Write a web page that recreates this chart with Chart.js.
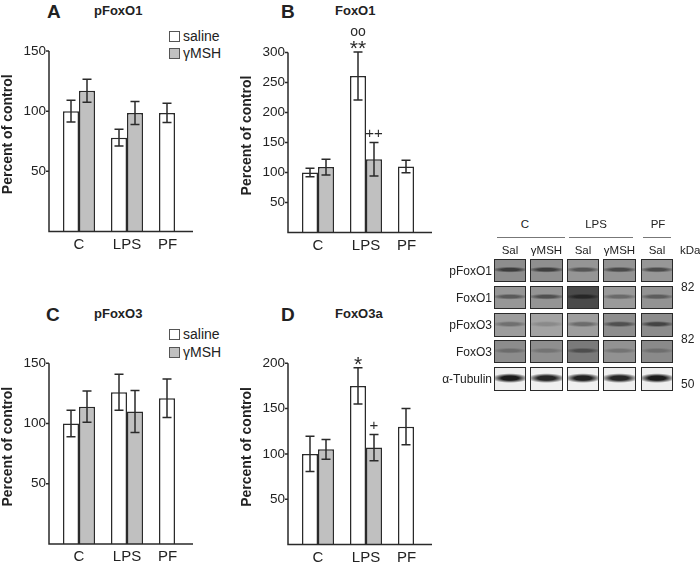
<!DOCTYPE html>
<html>
<head>
<meta charset="utf-8">
<script src="https://cdn.jsdelivr.net/npm/chart.js@4.4.1/dist/chart.umd.min.js"></script>
<style>
  body { margin: 0; background: #fff; }
  #fig { position: relative; width: 700px; height: 562px; overflow: hidden;
         font-family: "Liberation Sans", Arial, sans-serif; color: #222; }
  #fig canvas { position: absolute; }
  .letter { position: absolute; font-weight: bold; font-size: 19px; line-height: 19px; }
  .ptitle { position: absolute; font-weight: bold; font-size: 13px; line-height: 13px; }
  .leg { position: absolute; font-size: 14px; line-height: 14px; white-space: nowrap; }
  .leg span { display: inline-block; width: 9px; height: 9px; border: 1px solid #555;
              vertical-align: -1px; margin-right: 3px; }
  .blot { position: absolute; font-size: 11.5px; line-height: 12px; white-space: nowrap; }
  .cell { position: absolute; box-sizing: border-box; border: 1.5px solid #2a2a2a; }
  .hline { position: absolute; height: 0; border-top: 1.5px solid #777; }
</style>
</head>
<body>
<div id="fig">
  <div class="letter" style="left:47px;top:2px">A</div>
  <div class="ptitle" style="left:94px;top:4px">pFoxO1</div>
  <div class="letter" style="left:281px;top:2px">B</div>
  <div class="ptitle" style="left:335px;top:4px">FoxO1</div>
  <div class="letter" style="left:46px;top:305px">C</div>
  <div class="ptitle" style="left:94px;top:307px">pFoxO3</div>
  <div class="letter" style="left:281px;top:305px">D</div>
  <div class="ptitle" style="left:335px;top:307px">FoxO3a</div>

  <div class="leg" style="left:169px;top:29px"><span style="background:#fff"></span>saline</div>
  <div class="leg" style="left:169px;top:46px"><span style="background:#c0c0c0"></span>γMSH</div>
  <div class="leg" style="left:169px;top:327px"><span style="background:#fff"></span>saline</div>
  <div class="leg" style="left:169px;top:345px"><span style="background:#c0c0c0"></span>γMSH</div>

  <canvas id="chartA" width="215" height="250" style="left:0;top:20px"></canvas>
  <canvas id="chartB" width="215" height="250" style="left:239px;top:20px"></canvas>
  <canvas id="chartC" width="215" height="222" style="left:0;top:340px"></canvas>
  <canvas id="chartD" width="215" height="222" style="left:239px;top:340px"></canvas>

  <div id="blot"></div>
</div>
<script>
// categories and series
const groups = ['C', 'LPS', 'PF'];
const seriesNames = ['saline', 'γMSH'];

// A  pFoxO1 (percent of control, mean and error)
const pFoxO1Saline = [100, 78, 98.5];
const pFoxO1SalineErr = [9, 7, 8];
const pFoxO1Msh = [117, 98.5, null];
const pFoxO1MshErr = [9.5, 9.5, null];

// B  FoxO1
const foxO1Saline = [100, 261, 110];
const foxO1SalineErr = [7, 40, 10.5];
const foxO1Msh = [109, 122, null];
const foxO1MshErr = [13, 28, null];

// C  pFoxO3
const pFoxO3Saline = [100, 126, 121];
const pFoxO3SalineErr = [11, 15, 16];
const pFoxO3Msh = [114, 110, null];
const pFoxO3MshErr = [13, 17.5, null];

// D  FoxO3a
const foxO3aSaline = [100, 175, 130];
const foxO3aSalineErr = [19.5, 20, 20];
const foxO3aMsh = [105, 107, null];
const foxO3aMshErr = [11, 14.5, null];

// significance marks (series index, group index, text stacked bottom -> top)
const foxO1Marks = [[0, 1, ['**', 'oo']], [1, 1, ['++']]];
const foxO3aMarks = [[0, 1, ['*']], [1, 1, ['+']]];

// y axis tick labels
const ticksA = [50, 100, 150];
const ticksB = [50, 100, 150, 200, 250, 300];
const ticksC = [50, 100, 150];
const ticksD = [50, 100, 150, 200];

const FONT = '"Liberation Sans", Arial, sans-serif';
const INK = '#2a2a2a';
const AXIS_SHIFT = 6; // axis lines sit a little left of the category band

// axes are drawn by hand so the bars can sit away from the y axis line
const offsetAxes = {
  id: 'offsetAxes',
  afterDatasetsDraw(chart) {
    const { ctx, chartArea: a, scales: { y } } = chart;
    const x0 = a.left - AXIS_SHIFT;
    ctx.save();
    ctx.strokeStyle = INK;
    ctx.lineWidth = 1.5;
    ctx.beginPath();
    ctx.moveTo(x0, a.top);
    ctx.lineTo(x0, a.bottom);
    ctx.lineTo(a.right - AXIS_SHIFT, a.bottom);
    y.ticks.forEach(t => {
      if (t.value === 0) return;
      const py = y.getPixelForValue(t.value);
      ctx.moveTo(x0 - 3, py);
      ctx.lineTo(x0, py);
    });
    ctx.stroke();
    ctx.restore();
  }
};

const errorBars = {
  id: 'errorBars',
  afterDatasetsDraw(chart, args, opts) {
    const { ctx, scales: { y } } = chart;
    ctx.save();
    ctx.strokeStyle = INK;
    ctx.lineWidth = 1.5;
    chart.data.datasets.forEach((ds, di) => {
      chart.getDatasetMeta(di).data.forEach((bar, i) => {
        const v = ds.data[i], e = ds.errors[i];
        if (v == null || e == null) return;
        const top = y.getPixelForValue(v + e), bot = y.getPixelForValue(v - e);
        ctx.beginPath();
        ctx.moveTo(bar.x, top); ctx.lineTo(bar.x, bot);
        ctx.moveTo(bar.x - 4.5, top); ctx.lineTo(bar.x + 4.5, top);
        ctx.moveTo(bar.x - 4.5, bot); ctx.lineTo(bar.x + 4.5, bot);
        ctx.stroke();
      });
    });
    // significance symbols above the error bars
    ctx.fillStyle = INK;
    ctx.textAlign = 'center';
    ctx.textBaseline = 'alphabetic';
    (opts.marks || []).forEach(([si, gi, texts]) => {
      const ds = chart.data.datasets[si];
      const bar = chart.getDatasetMeta(si).data[gi];
      let cy = y.getPixelForValue(ds.data[gi] + ds.errors[gi]) - 9;
      texts.forEach(t => {
        let size, lift;
        if (t.includes('*')) { size = 21; lift = 0.56; }
        else if (t.includes('+')) { size = 15; lift = 0.33; }
        else { size = 14; lift = 0.27; }
        ctx.font = size + 'px ' + FONT;
        ctx.fillText(t, bar.x, cy + lift * size);
        cy -= 10.5;
      });
    });
    ctx.restore();
  }
};

function makeChart(id, saline, salineErr, msh, mshErr, tickVals, areaTop, areaBottom, marks) {
  const canvas = document.getElementById(id);
  const top = parseFloat(canvas.style.top);
  const padTop = areaTop - top;
  const xHeight = top + canvas.height - areaBottom;
  const max = tickVals[tickVals.length - 1];
  return new Chart(canvas, {
    type: 'bar',
    data: {
      labels: groups,
      datasets: [
        { label: seriesNames[0], data: saline, errors: salineErr,
          backgroundColor: '#ffffff', borderColor: INK, borderWidth: 1.5 },
        { label: seriesNames[1], data: msh, errors: mshErr,
          backgroundColor: '#c0c0c0', borderColor: INK, borderWidth: 1.5 }
      ]
    },
    options: {
      responsive: false,
      animation: false,
      devicePixelRatio: 1,
      layout: { padding: { top: padTop, right: 16, left: 0, bottom: 0 } },
      datasets: { bar: { categoryPercentage: 2 / 3, barPercentage: 1 } },
      scales: {
        x: {
          offset: true,
          grid: { display: false, drawTicks: false },
          border: { display: false },
          ticks: {
            padding: 4, color: '#222', maxRotation: 0,
            font: { family: FONT, size: 15 },
            // PF has only a saline bar, so its label sits under that bar
            callback: (v, i) => i === groups.length - 1 ? groups[i] + '\u2003' : groups[i]
          },
          afterFit: s => { s.height = xHeight; }
        },
        y: {
          min: 0, max: max,
          grid: { display: false, drawTicks: false },
          border: { display: false },
          afterBuildTicks: s => { s.ticks = [0].concat(tickVals).map(v => ({ value: v })); },
          ticks: {
            padding: 9, color: '#222',
            font: { family: FONT, size: 13.5 },
            callback: v => v === 0 ? '' : v
          },
          title: {
            // leading spaces lift the rotated label a little, as in the original
            display: true, text: '\u2002\u2002Percent of control', color: '#222',
            padding: 0, font: { family: FONT, size: 14, weight: 'bold' }
          },
          afterFit: s => { s.width = 55; }
        }
      },
      plugins: {
        legend: { display: false },
        tooltip: { enabled: false },
        errorBars: { marks: marks }
      }
    },
    plugins: [errorBars, offsetAxes]
  });
}

makeChart('chartA', pFoxO1Saline, pFoxO1SalineErr, pFoxO1Msh, pFoxO1MshErr, ticksA, 51, 231.5, []);
makeChart('chartB', foxO1Saline, foxO1SalineErr, foxO1Msh, foxO1MshErr, ticksB, 52.5, 232.5, foxO1Marks);
makeChart('chartC', pFoxO3Saline, pFoxO3SalineErr, pFoxO3Msh, pFoxO3MshErr, ticksC, 363.3, 544, []);
makeChart('chartD', foxO3aSaline, foxO3aSalineErr, foxO3aMsh, foxO3aMshErr, ticksD, 363.3, 544.5, foxO3aMarks);

// western blot panel (picture, drawn with plain elements)
const blotGroups = [['C', 525, 497, 565], ['LPS', 596, 569, 633], ['PF', 658, 643, 671]];
const blotLanes = ['Sal', 'γMSH', 'Sal', 'γMSH', 'Sal'];
const laneX = [[494, 526], [530, 563], [567, 599], [603, 636], [641, 673]];
const blotRows = ['pFoxO1', 'FoxO1', 'pFoxO3', 'FoxO3', 'α-Tubulin'];
const rowY = [[259, 282], [286, 309], [313, 337], [340, 363], [367, 391]];
const kda = [['82', 287], ['82', 339], ['50', 384]];
// [background, band] shade per cell
const shades = [
  [['#8d8d8d', '#3c3c3c'], ['#8f8f8f', '#3e3e3e'], ['#959595', '#555'], ['#939393', '#4a4a4a'], ['#979797', '#4c4c4c']],
  [['#979797', '#5a5a5a'], ['#949494', '#505050'], ['#4a4a4a', '#262626'], ['#9a9a9a', '#6a6a6a'], ['#939393', '#5c5c5c']],
  [['#9c9c9c', '#707070'], ['#a3a3a3', '#8a8a8a'], ['#9e9e9e', '#6c6c6c'], ['#8e8e8e', '#505050'], ['#8c8c8c', '#444']],
  [['#8c8c8c', '#6c6c6c'], ['#8f8f8f', '#747474'], ['#7a7a7a', '#4e4e4e'], ['#929292', '#747474'], ['#8a8a8a', '#6e6e6e']],
  [['#eeeeee', '#1a1a1a'], ['#f0f0f0', '#262626'], ['#f0f0f0', '#222'], ['#efefef', '#262626'], ['#eeeeee', '#1c1c1c']]
];

const blot = document.getElementById('blot');
function addText(text, x, y, align, size) {
  const d = document.createElement('div');
  d.className = 'blot';
  d.textContent = text;
  if (size) d.style.fontSize = size + 'px';
  d.style.top = (y - 6) + 'px';
  if (align === 'right') d.style.right = (700 - x) + 'px';
  else if (align === 'center') { d.style.left = (x - 40) + 'px'; d.style.width = '80px'; d.style.textAlign = 'center'; }
  else d.style.left = x + 'px';
  blot.appendChild(d);
}
blotGroups.forEach(([t, cx, x1, x2]) => {
  addText(t, cx, 224, 'center', 11.5);
  const l = document.createElement('div');
  l.className = 'hline';
  l.style.left = x1 + 'px'; l.style.width = (x2 - x1) + 'px'; l.style.top = '237px';
  blot.appendChild(l);
});
blotLanes.forEach((t, i) => addText(t, (laneX[i][0] + laneX[i][1]) / 2, 250, 'center', 11.5));
addText('kDa', 680, 250, 'left', 11.5);
blotRows.forEach((name, r) => {
  const [y1, y2] = rowY[r];
  addText(name, 492, (y1 + y2) / 2, 'right', 12);
  laneX.forEach(([x1, x2], c) => {
    const [bg, band] = shades[r][c];
    const d = document.createElement('div');
    d.className = 'cell';
    d.style.left = x1 + 'px'; d.style.top = y1 + 'px';
    d.style.width = (x2 - x1) + 'px'; d.style.height = (y2 - y1) + 'px';
    const thick = r === 4 ? 22 : 14;
    d.style.background = 'radial-gradient(ellipse 62% ' + thick + '% at 50% 46%, ' + band + ' 0%, ' + band + ' 45%, ' + bg + ' 100%), ' + bg;
    blot.appendChild(d);
  });
});
kda.forEach(([t, y]) => addText(t, 681, y, 'left', 12));
</script>
</body>
</html>
